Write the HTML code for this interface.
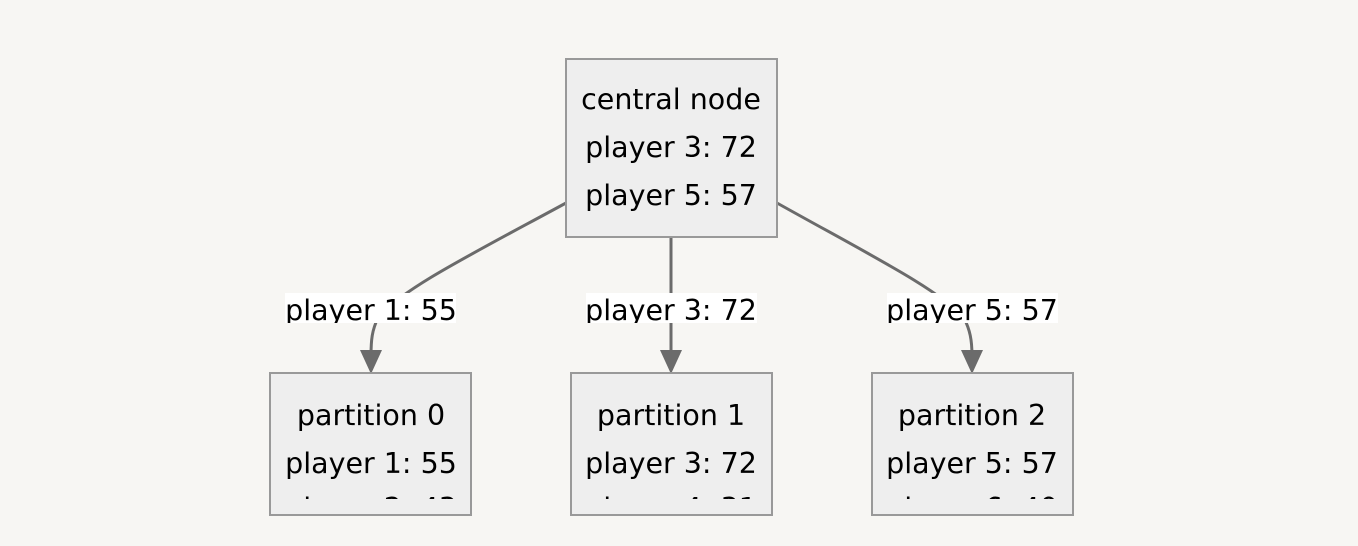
<!DOCTYPE html>
<html><head><meta charset="utf-8"><style>
html,body{margin:0;padding:0;background:#f7f6f3;}
svg{display:block;}
text{font-family:"DejaVu Sans","Liberation Sans",sans-serif;font-size:28.5px;fill:#000;text-anchor:middle;}
</style></head><body>
<svg width="1358" height="546" viewBox="0 0 1358 546" xmlns="http://www.w3.org/2000/svg">
<defs>
<clipPath id="c0"><rect x="270" y="373" width="202" height="126"/></clipPath>
<clipPath id="c1"><rect x="571" y="373" width="202" height="126"/></clipPath>
<clipPath id="c2"><rect x="872" y="373" width="202" height="126"/></clipPath>
<clipPath id="l0"><rect x="0" y="0" width="1358" height="323"/></clipPath>
</defs>
<g fill="none" stroke="#6b6b6b" stroke-width="3">
<path d="M566,203 C470,255 400,290 378,318 C372,330 371,340 371,356"/>
<path d="M671,237 L671,356"/>
<path d="M777,203 C870,255 940,290 964,318 C970,330 972,340 972,356"/>
</g>
<g fill="#6b6b6b">
<polygon points="360,350 382,350 371,374"/>
<polygon points="660,350 682,350 671,374"/>
<polygon points="961,350 983,350 972,374"/>
</g>
<rect x="566" y="59" width="211" height="178" fill="#eeeeee" stroke="#999" stroke-width="2"/>
<text x="671" y="109">central node</text>
<text x="671" y="157">player 3: 72</text>
<text x="671" y="205">player 5: 57</text>
<g clip-path="url(#l0)">
<rect x="285" y="293" width="171" height="30" fill="#fff"/>
<rect x="586" y="293" width="171" height="30" fill="#fff"/>
<rect x="887" y="293" width="171" height="30" fill="#fff"/>
<text x="371" y="320">player 1: 55</text>
<text x="671" y="320">player 3: 72</text>
<text x="972" y="320">player 5: 57</text>
</g>
<rect x="270" y="373" width="201" height="142" fill="#eeeeee" stroke="#999" stroke-width="2"/>
<rect x="571" y="373" width="201" height="142" fill="#eeeeee" stroke="#999" stroke-width="2"/>
<rect x="872" y="373" width="201" height="142" fill="#eeeeee" stroke="#999" stroke-width="2"/>
<g clip-path="url(#c0)">
<text x="371" y="425">partition 0</text>
<text x="371" y="473">player 1: 55</text>
<text x="371" y="518">player 2: 43</text>
</g>
<g clip-path="url(#c1)">
<text x="671" y="425">partition 1</text>
<text x="671" y="473">player 3: 72</text>
<text x="671" y="518">player 4: 31</text>
</g>
<g clip-path="url(#c2)">
<text x="972" y="425">partition 2</text>
<text x="972" y="473">player 5: 57</text>
<text x="972" y="518">player 6: 40</text>
</g>
</svg>
</body></html>
